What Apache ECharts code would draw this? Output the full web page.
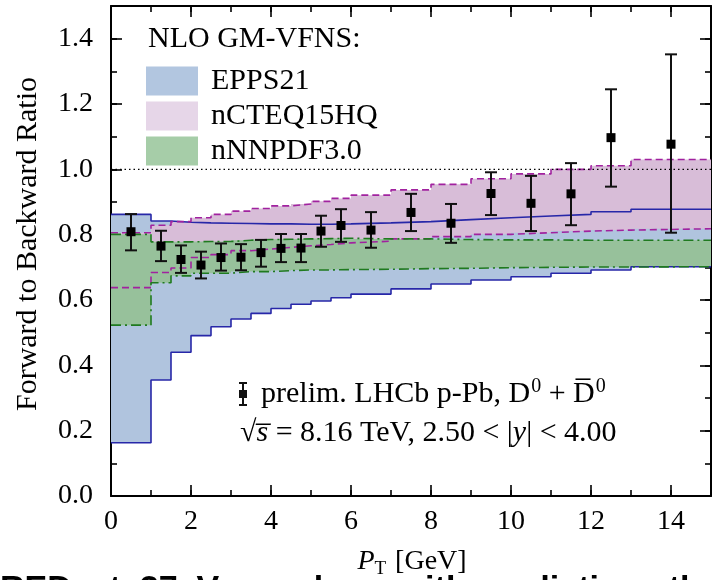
<!DOCTYPE html>
<html>
<head>
<meta charset="utf-8">
<script src="https://cdn.jsdelivr.net/npm/echarts@6/dist/echarts.min.js"></script>
<style>
  html, body { margin: 0; padding: 0; background: #fff; }
  #chart { width: 714px; height: 580px; }
</style>
</head>
<body>
<div id="chart"></div>
<script>
// bin edges in P_T (GeV)
const binEdges = [0, 1, 1.5, 2, 2.5, 3, 3.5, 4, 4.5, 5, 5.5, 6, 7, 8, 9, 10, 11, 12, 13, 15];

// theory bands, one value per bin
const eppsUpper = [0.862, 0.842, 0.838, 0.836, 0.835, 0.834, 0.833, 0.833, 0.832, 0.832, 0.833, 0.836, 0.840, 0.846, 0.852, 0.857, 0.862, 0.870, 0.878];
const eppsLower = [0.163, 0.355, 0.440, 0.491, 0.518, 0.542, 0.559, 0.574, 0.587, 0.597, 0.607, 0.618, 0.634, 0.649, 0.661, 0.671, 0.682, 0.692, 0.702];
const cteqUpper = [0.806, 0.829, 0.840, 0.852, 0.862, 0.872, 0.880, 0.888, 0.894, 0.902, 0.911, 0.921, 0.937, 0.954, 0.971, 0.986, 1.000, 1.011, 1.030];
const cteqLower = [0.638, 0.684, 0.698, 0.730, 0.739, 0.751, 0.756, 0.761, 0.766, 0.770, 0.775, 0.780, 0.787, 0.794, 0.801, 0.806, 0.811, 0.814, 0.818];
const nnpdfUpper = [0.801, 0.778, 0.778, 0.779, 0.779, 0.783, 0.785, 0.786, 0.787, 0.788, 0.789, 0.787, 0.787, 0.785, 0.784, 0.784, 0.783, 0.783, 0.783];
const nnpdfLower = [0.523, 0.653, 0.674, 0.682, 0.682, 0.687, 0.687, 0.690, 0.692, 0.692, 0.693, 0.694, 0.696, 0.697, 0.699, 0.700, 0.701, 0.701, 0.702];

// LHCb data points
const dataX = [0.5, 1.25, 1.75, 2.25, 2.75, 3.25, 3.75, 4.25, 4.75, 5.25, 5.75, 6.5, 7.5, 8.5, 9.5, 10.5, 11.5, 12.5, 14];
const dataY = [0.809, 0.765, 0.724, 0.707, 0.730, 0.731, 0.745, 0.758, 0.759, 0.811, 0.828, 0.814, 0.868, 0.835, 0.926, 0.896, 0.925, 1.097, 1.077];
const dataHi = [0.863, 0.812, 0.767, 0.748, 0.773, 0.771, 0.784, 0.802, 0.802, 0.858, 0.878, 0.869, 0.925, 0.894, 0.991, 0.980, 1.019, 1.245, 1.352];
const dataLo = [0.752, 0.719, 0.683, 0.666, 0.690, 0.691, 0.702, 0.716, 0.716, 0.763, 0.778, 0.760, 0.811, 0.775, 0.860, 0.811, 0.829, 0.947, 0.806];

const refLine = [[0, 1], [15, 1]];

const SERIF = '"Liberation Serif", "DejaVu Serif", serif';
const FS = 28;
const FS_TXT = 30;

const chart = echarts.init(document.getElementById('chart'), null, { renderer: 'canvas' });

// filled band built as one polygon through the axes
function bandFill(name, lo, hi, color) {
    return {
        type: 'custom',
        name: name,
        xAxisIndex: 0, yAxisIndex: 0,
        z: 1,
        data: [[binEdges[0], lo[0]]],
        renderItem: function (params, api) {
            const pts = [];
            for (let i = 0; i < hi.length; i++) {
                pts.push(api.coord([binEdges[i], hi[i]]));
                pts.push(api.coord([binEdges[i + 1], hi[i]]));
            }
            for (let i = lo.length - 1; i >= 0; i--) {
                pts.push(api.coord([binEdges[i + 1], lo[i]]));
                pts.push(api.coord([binEdges[i], lo[i]]));
            }
            return { type: 'polygon', shape: { points: pts }, style: { fill: color } };
        },
        itemStyle: { color: color },
        silent: true
    };
}

function bandEdge(vals, color, dash) {
    return {
        type: 'line',
        xAxisIndex: 0, yAxisIndex: 0,
        step: 'end',
        symbol: 'none',
        z: 3,
        silent: true,
        data: binEdges.map((e, i) => [e, vals[Math.min(i, vals.length - 1)]]),
        lineStyle: { color: color, width: 1.6, type: dash }
    };
}

const blueLine = '#2727a8';
const magLine = '#a1229f';
const greenLine = '#1f7a1f';
const magDash = [7, 4];
const greenDash = [10, 4, 2, 4];

function xAx(pos, interval, len, labels, line) {
    return {
        type: 'value', position: pos, min: 0, max: 15, interval: interval,
        axisLine: { show: line, onZero: false, lineStyle: { color: '#000', width: 2 } },
        axisTick: { show: true, inside: true, length: len, lineStyle: { color: '#000', width: 1.6 } },
        axisLabel: {
            show: labels, color: '#000', fontFamily: SERIF, fontSize: FS, margin: 12,
            formatter: v => (v === 15 ? '' : String(v))
        },
        splitLine: { show: false }
    };
}
function yAx(pos, interval, len, labels, line) {
    return {
        type: 'value', position: pos, min: 0, max: 1.5, interval: interval, offset: 0,
        axisLine: { show: line, onZero: false, lineStyle: { color: '#000', width: 2 } },
        axisTick: { show: true, inside: true, length: len, lineStyle: { color: '#000', width: 1.6 } },
        axisLabel: {
            show: labels, color: '#000', fontFamily: SERIF, fontSize: FS, margin: 18,
            formatter: v => (Math.abs(v - 1.5) < 1e-9 ? '' : v.toFixed(1))
        },
        splitLine: { show: false }
    };
}

const option = {
    animation: false,
    backgroundColor: '#fff',
    grid: { left: 111, right: -7, top: 6, bottom: 84, containLabel: false },
    xAxis: [
        xAx('bottom', 2, 11, true, true),
        xAx('bottom', 1, 6, false, false),
        xAx('top', 2, 11, false, true),
        xAx('top', 1, 6, false, false)
    ],
    yAxis: [
        yAx('left', 0.2, 11, true, true),
        yAx('left', 0.1, 6, false, false),
        yAx('right', 0.2, 11, false, true),
        yAx('right', 0.1, 6, false, false)
    ],
    title: {
        text: 'NLO GM-VFNS:', left: 148, top: 24, padding: 0,
        textStyle: { fontFamily: SERIF, fontSize: FS_TXT, fontWeight: 'normal', color: '#000' }
    },
    legend: {
        orient: 'vertical', left: 146, top: 66, padding: 0,
        itemWidth: 52, itemHeight: 29, itemGap: 5, icon: 'rect',
        selectedMode: false,
        textStyle: { fontFamily: SERIF, fontSize: FS_TXT, color: '#000', padding: [0, 0, 0, 8] },
        data: [
            { name: 'EPPS21', itemStyle: { color: '#b2c6e0' } },
            { name: 'nCTEQ15HQ', itemStyle: { color: '#e6d6e8' } },
            { name: 'nNNPDF3.0', itemStyle: { color: '#a6cda8' } }
        ]
    },
    graphic: [
        {
            type: 'text', x: 28, y: 244, rotation: Math.PI / 2,
            style: { text: 'Forward to Backward Ratio', font: '30px ' + SERIF, fill: '#000', align: 'center', verticalAlign: 'middle' }
        },
        {
            type: 'text', x: 412, y: 562,
            style: {
                text: '{i|P}{s|T} [GeV]', font: '28px ' + SERIF, fill: '#000', align: 'center', verticalAlign: 'middle',
                rich: {
                    i: { fontFamily: SERIF, fontSize: 28, fontStyle: 'italic' },
                    s: { fontFamily: SERIF, fontSize: 19, padding: [14, 2, 0, 0] }
                }
            }
        },
        {
            type: 'text', x: 0, y: 573,
            style: { text: 'RED  at  37  V          l        with predictions th', font: 'bold 34px "Liberation Sans", Arial, sans-serif', fill: '#000', align: 'left', verticalAlign: 'top' }
        },
        // legend marker for the data points
        { type: 'line', shape: { x1: 243, y1: 383, x2: 243, y2: 405 }, style: { stroke: '#111', lineWidth: 2 } },
        { type: 'line', shape: { x1: 239, y1: 383, x2: 247, y2: 383 }, style: { stroke: '#111', lineWidth: 2 } },
        { type: 'line', shape: { x1: 239, y1: 405, x2: 247, y2: 405 }, style: { stroke: '#111', lineWidth: 2 } },
        { type: 'rect', shape: { x: 239, y: 390, width: 8, height: 8 }, style: { fill: '#111' } },
        {
            type: 'text', x: 261, y: 394,
            style: {
                text: 'prelim. LHCb p-Pb, D{sup|0} + D\u0305{sup|0}', font: FS_TXT + 'px ' + SERIF, fill: '#000', verticalAlign: 'middle',
                rich: { sup: { fontFamily: SERIF, fontSize: 20, padding: [0, 0, 15, 1] } }
            }
        },
        {
            type: 'text', x: 240, y: 433,
            style: {
                text: '\u221A{i|s\u0305} = 8.16 TeV, 2.50 < |{i|y}| < 4.00', font: FS_TXT + 'px ' + SERIF, fill: '#000', verticalAlign: 'middle',
                rich: { i: { fontFamily: SERIF, fontSize: FS_TXT, fontStyle: 'italic' } }
            }
        }
    ],
    series: [
        bandFill('EPPS21', eppsLower, eppsUpper, '#b0c4de'),
        bandFill('nCTEQ15HQ', cteqLower, cteqUpper, '#d8bdd8'),
        bandFill('nNNPDF3.0', nnpdfLower, nnpdfUpper, '#97c19b'),
        bandEdge(eppsUpper, blueLine, 'solid'),
        bandEdge(eppsLower, blueLine, 'solid'),
        bandEdge(cteqUpper, magLine, magDash),
        bandEdge(cteqLower, magLine, magDash),
        bandEdge(nnpdfUpper, greenLine, greenDash),
        bandEdge(nnpdfLower, greenLine, greenDash),
        {
            type: 'line', xAxisIndex: 0, yAxisIndex: 0, symbol: 'none', z: 4, silent: true,
            data: refLine,
            lineStyle: { color: '#000', width: 1.4, type: [1.5, 3] }
        },
        {
            type: 'custom', xAxisIndex: 0, yAxisIndex: 0, z: 5, silent: true,
            data: dataX.map((x, i) => [x, dataY[i], dataLo[i], dataHi[i]]),
            renderItem: function (params, api) {
                const c = api.coord([api.value(0), api.value(1)]);
                const lo = api.coord([api.value(0), api.value(2)]);
                const hi = api.coord([api.value(0), api.value(3)]);
                const w = 6;
                const st = { stroke: '#111', lineWidth: 2 };
                return {
                    type: 'group',
                    children: [
                        { type: 'line', shape: { x1: c[0], y1: lo[1], x2: c[0], y2: hi[1] }, style: st },
                        { type: 'line', shape: { x1: c[0] - w, y1: lo[1], x2: c[0] + w, y2: lo[1] }, style: st },
                        { type: 'line', shape: { x1: c[0] - w, y1: hi[1], x2: c[0] + w, y2: hi[1] }, style: st },
                        { type: 'rect', shape: { x: c[0] - 4.5, y: c[1] - 4.5, width: 9, height: 9 }, style: { fill: '#000' } }
                    ]
                };
            }
        }
    ]
};

chart.setOption(option);
</script>
</body>
</html>
